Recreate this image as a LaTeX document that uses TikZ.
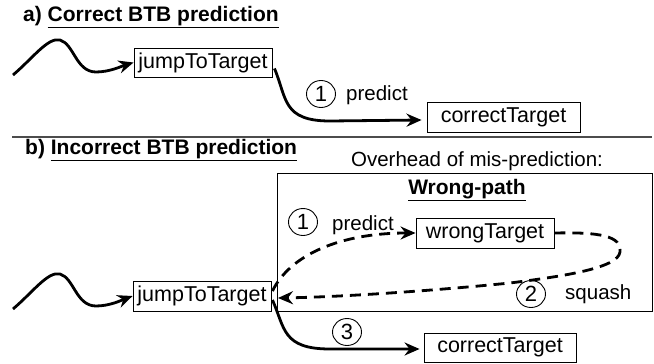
\documentclass[tikz,border=0pt]{standalone}
\usepackage{fontspec}
\setmainfont{Liberation Sans}
\usetikzlibrary{arrows.meta,calc,shapes.geometric}
\begin{document}
\begin{tikzpicture}[x=1pt,y=-1pt,
  txt/.style={font=\fontsize{20.5}{23}\selectfont, inner sep=0pt},
  ttl/.style={font=\fontsize{21}{24}\selectfont\bfseries, inner sep=0pt},
  box/.style={draw, line width=0.9pt, inner sep=0pt, font=\fontsize{21.5}{24}\selectfont},
  num/.style={draw, ellipse, line width=0.9pt, inner sep=0pt, minimum width=29pt, minimum height=27pt, font=\fontsize{22}{24}\selectfont},
  flow/.style={line width=2.8pt, -{Stealth[length=15pt,width=13pt,inset=5pt]}},
  dflow/.style={line width=2.8pt, dash pattern=on 11pt off 7pt, -{Stealth[length=15pt,width=13pt,inset=5pt]}},
  sep/.style={draw=black!70, line width=1.3pt}
]
\useasboundingbox (0,0) rectangle (654,364);

% ---- part a
\node[ttl, anchor=west] (titleA) at (23,17) {a) \underline{Correct BTB prediction}};
\node[box, minimum width=138pt, minimum height=29pt] (jumpA) at (203,62.5) {jumpToTarget};
\node[box, minimum width=153pt, minimum height=30pt] (corrA) at (503.5,117) {correctTarget};
\node[num] (c1a) at (321,94) {1};
\node[txt, anchor=west] (predA) at (346,95) {predict};
\coordinate (sA) at (13,75);
\draw[flow] (sA) .. controls (33,58) and (48,37) .. (60,40)
  .. controls (74,44) and (76,72) .. (96,72)
  .. controls (110,72) and (122,66) .. (jumpA.west);
\draw[flow] ($(jumpA.east)+(2,6)$) .. controls (287,98) and (282,121) .. (330,121)
  -- ($(corrA.west)+(-5,3)$);

% ---- separator
\coordinate (l1) at (12,137);
\coordinate (l2) at (652,137);
\draw[sep] (l1) -- (l2);

% ---- part b
\node[ttl, anchor=west] (titleB) at (25,150) {b) \underline{Incorrect BTB prediction}};
\node[txt] (over) at (477,161) {Overhead of mis-prediction:};
\node[draw, line width=0.9pt, minimum width=375pt, minimum height=138pt, inner sep=0pt] (wp) at (464.5,242) {};
\node[ttl] (wptitle) at (467,190) {\underline{Wrong-path}};
\node[box, minimum width=138pt, minimum height=30pt] (jumpB) at (202,296) {jumpToTarget};
\node[box, minimum width=138pt, minimum height=30pt] (wrongT) at (485,233) {wrongTarget};
\node[box, minimum width=152pt, minimum height=29pt] (corrB) at (500,347.5) {correctTarget};
\node[num] (c1b) at (303,222) {1};
\node[txt, anchor=west] (predB) at (332,225) {predict};
\node[num] (c2) at (531,294) {2};
\node[txt, anchor=west] (squash) at (565,294) {squash};
\node[num] (c3) at (347,332) {3};

\coordinate (sB) at (13,309);
\draw[flow] (sB) .. controls (33,292) and (48,271) .. (60,274)
  .. controls (74,278) and (76,306) .. (96,306)
  .. controls (110,306) and (122,300) .. (jumpB.west);
\draw[dflow] ($(jumpB.east)+(1,-5)$) .. controls (290,255) and (340,233) .. (wrongT.west);
\coordinate (ret) at (278,298);
\draw[dflow] (wrongT.east) .. controls (600,232) and (622,236) .. (620,252)
  .. controls (618,268) and (565,276) .. (510,283)
  .. controls (430,291) and (340,297) .. (ret);
\draw[flow] ($(jumpB.east)+(1,4)$) .. controls (285,328) and (282,349) .. (330,349)
  -- ($(corrB.west)+(-4,1.5)$);
\end{tikzpicture}
\end{document}
